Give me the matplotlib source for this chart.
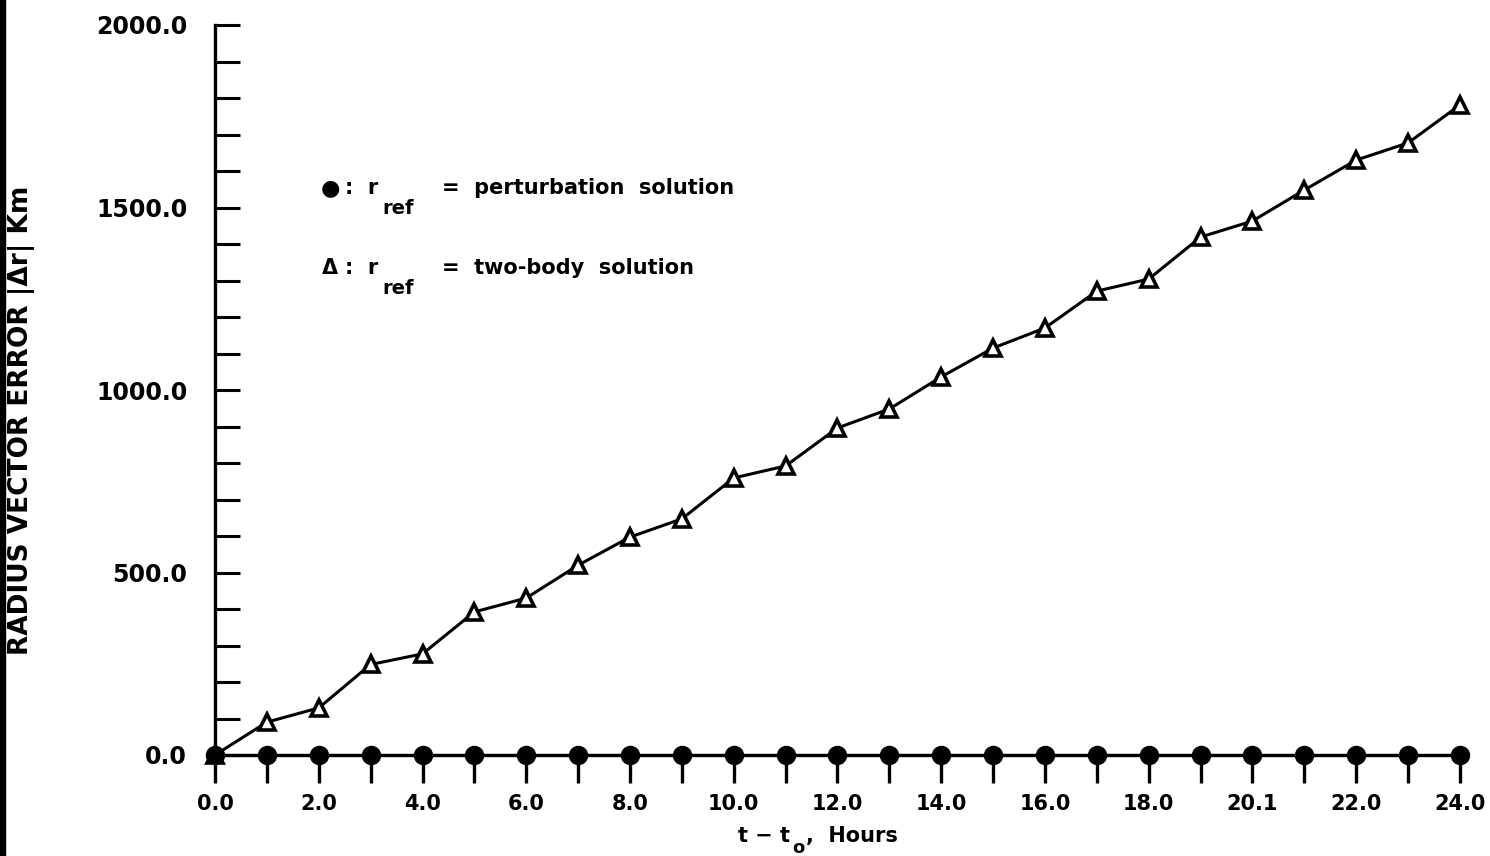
import numpy as np
import matplotlib
matplotlib.use('Agg')
import matplotlib.pyplot as plt
from matplotlib.ticker import MultipleLocator

# data
hours = list(range(0, 25))
two_body = [0, 90, 129, 248, 277, 392, 430, 520, 597, 647, 759, 792, 896,
            948, 1036, 1115, 1170, 1271, 1304, 1419, 1463, 1548, 1630, 1677, 1781]
perturb = [0] * 25
x_tick_pos = [0, 2, 4, 6, 8, 10, 12, 14, 16, 18, 20, 22, 24]
x_tick_lab = ['0.0', '2.0', '4.0', '6.0', '8.0', '10.0', '12.0', '14.0',
              '16.0', '18.0', '20.1', '22.0', '24.0']
y_tick_pos = [0, 500, 1000, 1500, 2000]
y_tick_lab = ['0.0', '500.0', '1000.0', '1500.0', '2000.0']

plt.rcParams['font.family'] = ['DejaVu Sans']
plt.rcParams['font.weight'] = 'bold'

fig = plt.figure(figsize=(14.9, 8.56), dpi=100)
ax = fig.add_axes([215/1490, 101/856, 1245/1490, 730/856])

ax.plot(hours, two_body, color='black', lw=2.2, marker='^', ms=12,
        mfc='white', mec='black', mew=2.6, clip_on=False, zorder=3)
ax.plot(hours, perturb, color='black', lw=2.2, marker='o', ms=13,
        mfc='black', mec='black', clip_on=False, zorder=4)

ax.set_xlim(0, 24)
ax.set_ylim(0, 2000)
for s in ['top', 'right']:
    ax.spines[s].set_visible(False)
ax.spines['left'].set_linewidth(2.4)
ax.spines['bottom'].set_linewidth(2.4)

ax.set_xticks(hours, minor=True)
ax.set_xticks(x_tick_pos)
ax.set_xticklabels(x_tick_lab, fontsize=15)
ax.tick_params(axis='x', which='both', direction='out', length=20, width=2.4, pad=8)

ax.set_yticks(y_tick_pos)
ax.set_yticklabels(y_tick_lab, fontsize=17)
ax.yaxis.set_minor_locator(MultipleLocator(100))
ax.tick_params(axis='y', which='both', direction='in', length=18, width=2.2, pad=20)

# legend written as text, like the original
fig.text(330/1490, 1 - 188/856, '\u25CF', fontsize=16, ha='center', va='center')
fig.text(345/1490, 1 - 188/856, ':  r', fontsize=15, va='center')
fig.text(382/1490, 1 - 208/856, 'ref', fontsize=14, va='center')
fig.text(442/1490, 1 - 188/856, '=  perturbation  solution', fontsize=15, va='center')

fig.text(330/1490, 1 - 268/856, '\u0394', fontsize=15, ha='center', va='center')
fig.text(345/1490, 1 - 268/856, ':  r', fontsize=15, va='center')
fig.text(382/1490, 1 - 288/856, 'ref', fontsize=14, va='center')
fig.text(442/1490, 1 - 268/856, '=  two-body  solution', fontsize=15, va='center')

# axis titles
fig.text(22/1490, 1 - 420/856, 'RADIUS VECTOR ERROR |\u0394r| Km', rotation=90,
         fontsize=19, ha='center', va='center')
fig.text(790/1490, 1 - 836/856, 't \u2212 t', fontsize=15, ha='right', va='center')
fig.text(792/1490, 1 - 848/856, 'o', fontsize=13, ha='left', va='center')
fig.text(806/1490, 1 - 836/856, ',  Hours', fontsize=15, ha='left', va='center')

# dark scan edge on the left
fig.patches.append(plt.Rectangle((0, 0), 5/1490, 1, transform=fig.transFigure,
                                 color='black', zorder=0))

fig.savefig('out.png', dpi=100)
